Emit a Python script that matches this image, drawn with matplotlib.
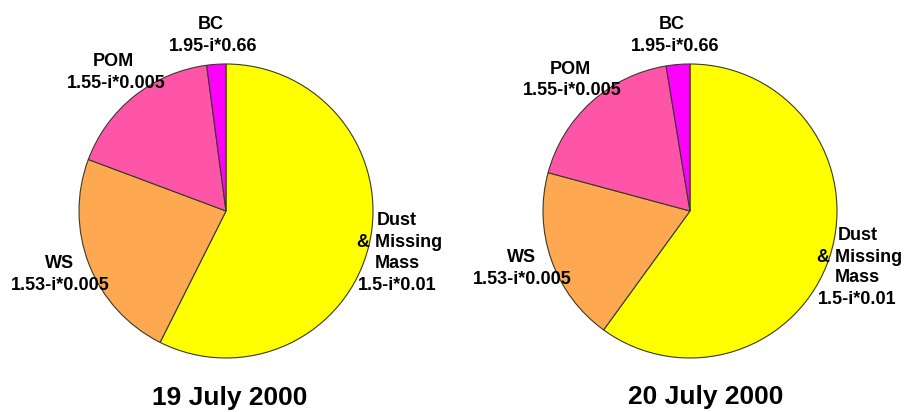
import matplotlib
matplotlib.use("Agg")
import matplotlib.pyplot as plt

# shares of each component, clockwise from 12 o'clock
components = ["Dust & Missing Mass", "WS", "POM", "BC"]
share_19 = [0.574, 0.233, 0.172, 0.021]
share_20 = [0.600, 0.192, 0.182, 0.026]
dates = ["19 July 2000", "20 July 2000"]
refr = {
    "BC": "1.95-i*0.66",
    "POM": "1.55-i*0.005",
    "WS": "1.53-i*0.005",
    "Dust": "1.5-i*0.01",
}
colors = ["#ffff00", "#ffa852", "#ff55a8", "#ff00ff"]

plt.rcParams['font.family'] = ['Liberation Sans', 'DejaVu Sans']

W, H = 906, 412
fig = plt.figure(figsize=(W / 100, H / 100), dpi=100)
ax = fig.add_axes([0, 0, 1, 1])


def draw_pie(vals, cx, cy, r):
    ax.pie(vals, colors=colors, startangle=90, counterclock=False,
           center=(cx, H - cy), radius=r,
           wedgeprops=dict(edgecolor="#3a3a2a", linewidth=0.8))


def label(x, y, s, size=13):
    ax.text(x, H - y, s, ha="center", va="center", fontsize=size,
            fontweight="bold", color="black")


# left pie
draw_pie(share_19, 226, 211, 147)
label(211, 24, "BC")
label(213, 46, refr["BC"])
label(113, 61, "POM")
label(116, 83, refr["POM"])
label(60, 263, "WS")
label(60, 285, refr["WS"])
label(397, 220, "Dust")
label(400, 242, "& Missing")
label(397, 263, "Mass")
label(397, 285, refr["Dust"])
label(230, 398, dates[0], size=19)

# right pie
draw_pie(share_20, 690, 211, 147)
label(672, 24, "BC")
label(675, 46, refr["BC"])
label(570, 69, "POM")
label(572, 90, refr["POM"])
label(522, 258, "WS")
label(522, 279, refr["WS"])
label(858, 235, "Dust")
label(860, 257, "& Missing")
label(857, 278, "Mass")
label(857, 300, refr["Dust"])
label(706, 397, dates[1], size=19)

ax.set_xlim(0, W)
ax.set_ylim(0, H)
ax.set_aspect("auto")
ax.axis("off")

fig.savefig("out.png", dpi=100, facecolor="white")
